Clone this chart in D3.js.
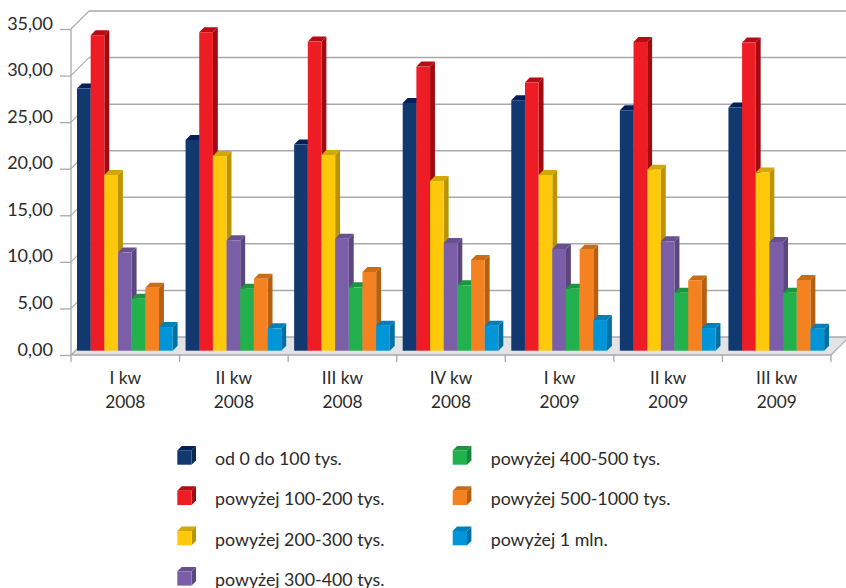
<!DOCTYPE html>
<html lang="pl">
<head>
<meta charset="utf-8">
<title>Wykres kolumnowy</title>
<script src="https://cdn.jsdelivr.net/npm/d3@7/dist/d3.min.js"></script>
<style>
  html, body { margin: 0; padding: 0; background: #fff; overflow: hidden; }
  svg { display: block; }
  text { font-family: Lato, "Open Sans", sans-serif; fill: #2a2a2a; }
</style>
</head>
<body>
<svg id="chart" width="846" height="588"></svg>
<script>
// Kwartały na osi poziomej
const categories = ["I kw 2008", "II kw 2008", "III kw 2008", "IV kw 2008", "I kw 2009", "II kw 2009", "III kw 2009"];

// Wartości serii dla kolejnych kwartałów
const series0to100 = [28.14, 22.63, 22.13, 26.60, 26.89, 25.81, 26.10];
const series100to200 = [33.87, 34.19, 33.19, 30.50, 28.79, 33.15, 33.08];
const series200to300 = [18.87, 20.91, 21.02, 18.22, 18.87, 19.44, 19.12];
const series300to400 = [10.53, 11.85, 12.03, 11.56, 10.92, 11.74, 11.67];
const series400to500 = [5.59, 6.66, 6.80, 7.02, 6.66, 6.23, 6.23];
const series500to1000 = [6.77, 7.73, 8.45, 9.74, 10.85, 7.55, 7.59];
const seriesOver1m = [2.54, 2.40, 2.69, 2.69, 3.29, 2.43, 2.36];

const seriesNames = [
  "od 0 do 100 tys.", "powyżej 100-200 tys.", "powyżej 200-300 tys.", "powyżej 300-400 tys.",
  "powyżej 400-500 tys.", "powyżej 500-1000 tys.", "powyżej 1 mln."
];
const seriesValues = [series0to100, series100to200, series200to300, series300to400,
                      series400to500, series500to1000, seriesOver1m];
const frontColors = ["#11386f", "#ee1c25", "#ffc90b", "#7a5fa8", "#22b14c", "#f58220", "#0095d9"];
const sideColors  = ["#0c2850", "#a20a10", "#bd9400", "#5b4680", "#18853a", "#b55f10", "#006fa2"];
const topColors   = ["#02205a", "#b80c14", "#d2a708", "#67508f", "#1b963f", "#c96c14", "#007fbc"];
const yTicks = [0, 5, 10, 15, 20, 25, 30, 35];

const svg = d3.select("#chart");
const grid = "#a9a9ad";

// Rzut ukośny: głębokość ścian i głębokość pojedynczej kolumny
const wallDepth = 18;
const barDx = 4.9, barDy = 5;
const floorLift = 4.3;

const y = d3.scaleLinear().domain([0, 35]).range([355, 29]);
const x = d3.scaleBand().domain(categories).range([71, 831]);
const inner = d3.scaleBand().domain(d3.range(seriesNames.length)).range([6, 6 + 95.7]);

const poly = pts => pts.map(p => p.join(",")).join(" ");
const [x0, x1] = x.range();
const yBase = y(0);

// Podłoga
svg.append("polygon")
  .attr("points", poly([[x0, yBase], [x0 + wallDepth, yBase - wallDepth], [x1 + wallDepth, yBase - wallDepth], [x1, yBase]]))
  .attr("fill", "#e1e3e5");

// Linie siatki na tylnej ścianie i ich przedłużenia na ścianie bocznej
const gridGroup = svg.append("g").attr("fill", "none").attr("stroke", grid);
gridGroup.selectAll("line.back").data(yTicks).join("line")
  .attr("class", "back")
  .attr("x1", x0 + wallDepth).attr("x2", x1 + wallDepth)
  .attr("y1", d => y(d) - wallDepth).attr("y2", d => y(d) - wallDepth)
  .attr("stroke-width", 1.5);
gridGroup.selectAll("line.side").data(yTicks).join("line")
  .attr("class", "side")
  .attr("x1", x0).attr("x2", x0 + wallDepth)
  .attr("y1", d => y(d)).attr("y2", d => y(d) - wallDepth)
  .attr("stroke-width", 1.1);
gridGroup.append("line")
  .attr("x1", x1).attr("y1", yBase)
  .attr("x2", x1 + wallDepth).attr("y2", yBase - wallDepth)
  .attr("stroke-width", 1.1);

// Kolumny rysowane od lewej, żeby kolejna przykrywała bok poprzedniej
categories.forEach((cat, c) => {
  const g = svg.append("g");
  seriesValues.forEach((values, s) => {
    const left = x(cat) + inner(s);
    const w = inner.bandwidth();
    const top = y(values[c]) - floorLift;
    const bottom = yBase - floorLift;
    g.append("polygon")
      .attr("points", poly([[left + w, top], [left + w + barDx, top - barDy], [left + w + barDx, bottom - barDy], [left + w, bottom]]))
      .attr("fill", sideColors[s]);
    g.append("polygon")
      .attr("points", poly([[left, top], [left + barDx, top - barDy], [left + w + barDx, top - barDy], [left + w, top]]))
      .attr("fill", topColors[s]);
    g.append("rect")
      .attr("x", left).attr("y", top)
      .attr("width", w).attr("height", bottom - top)
      .attr("fill", frontColors[s]);
  });
});

// Oś wartości z przecinkiem dziesiętnym
const yAxis = d3.axisLeft(y)
  .tickValues(yTicks)
  .tickSize(11)
  .tickPadding(7)
  .tickFormat(d => d3.format(".2f")(d).replace(".", ","));
const yAxisG = svg.append("g").attr("transform", `translate(${x0},0)`).call(yAxis);
yAxisG.selectAll("line").attr("stroke", grid).attr("stroke-width", 1.3);
yAxisG.select(".domain").attr("stroke", grid).attr("stroke-width", 1.3).attr("d", `M0,${y(35)}V${yBase + 7}`);
yAxisG.selectAll("text").attr("dy", 0).attr("font-size", 18).attr("font-family", "Lato").attr("fill", "#2a2a2a");

// Oś kwartałów: znaczniki na granicach grup, podpis w dwóch wierszach
const xAxis = d3.axisBottom(x).tickSize(0).tickPadding(0);
const xAxisG = svg.append("g").attr("transform", `translate(0,${yBase})`).call(xAxis);
xAxisG.select(".domain").attr("stroke", grid).attr("stroke-width", 1.6).attr("d", `M${x0},0H${x1}`);
xAxisG.selectAll(".tick text").each(function (d) {
  const cut = d.lastIndexOf(" ");
  const t = d3.select(this).text(null).attr("y", 0).attr("dy", null)
    .attr("font-size", 17.3).attr("font-family", "Lato").attr("fill", "#2a2a2a");
  t.append("tspan").attr("x", 0).attr("y", 29).text(d.slice(0, cut));
  t.append("tspan").attr("x", 0).attr("y", 53).text(d.slice(cut + 1));
});
xAxisG.selectAll("line.bound").data(categories).join("line")
  .attr("class", "bound")
  .attr("x1", d => x(d) + x.bandwidth()).attr("x2", d => x(d) + x.bandwidth())
  .attr("y1", 0).attr("y2", 7)
  .attr("stroke", grid).attr("stroke-width", 1.3);

// Legenda w dwóch kolumnach
const legendCols = [
  { swatch: 177.3, text: 215, rows: 4, start: 0 },
  { swatch: 452.7, text: 490.7, rows: 3, start: 4 }
];
const legendSize = 14.3, legendDepth = 4.4, legendTop = 450.4, legendStep = 40.3;
const legend = svg.append("g");
legendCols.forEach(col => {
  d3.range(col.rows).forEach(r => {
    const s = col.start + r;
    const lx = col.swatch, ly = legendTop + r * legendStep;
    legend.append("polygon")
      .attr("points", poly([[lx + legendSize, ly], [lx + legendSize + legendDepth, ly - legendDepth], [lx + legendSize + legendDepth, ly + legendSize - legendDepth], [lx + legendSize, ly + legendSize]]))
      .attr("fill", sideColors[s]);
    legend.append("polygon")
      .attr("points", poly([[lx, ly], [lx + legendDepth, ly - legendDepth], [lx + legendSize + legendDepth, ly - legendDepth], [lx + legendSize, ly]]))
      .attr("fill", topColors[s]);
    legend.append("rect")
      .attr("x", lx).attr("y", ly).attr("width", legendSize).attr("height", legendSize)
      .attr("fill", frontColors[s]);
    legend.append("text")
      .attr("x", col.text).attr("y", ly + 14.5)
      .attr("font-size", 17.8)
      .text(seriesNames[s]);
  });
});
</script>
</body>
</html>
